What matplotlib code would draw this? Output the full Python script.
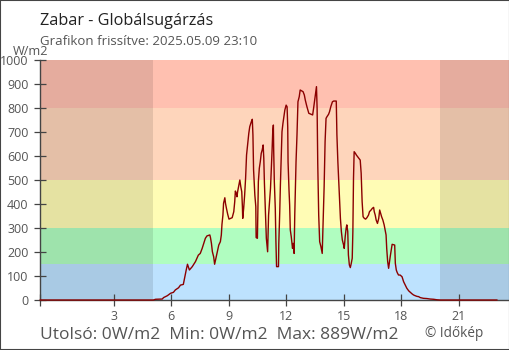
import matplotlib
matplotlib.use("Agg")
import matplotlib.pyplot as plt
from matplotlib.patches import Rectangle

plt.rcParams['font.family'] = ['Open Sans', 'DejaVu Sans']

# minutes after midnight (negative = previous evening) and W/m2
minute = [-50, 304, 311, 332, 336, 348, 358, 367, 373, 383, 389, 398, 407, 411, 417, 426,
          436, 445, 451, 457, 462, 467, 472, 481, 483, 486, 489, 493, 496, 500, 504, 509,
          514, 517, 519, 522, 524, 528, 530, 533, 537, 541, 551, 556, 559, 561, 564, 566,
          568, 571, 575, 578, 581, 583, 584, 587, 590, 593, 596, 600, 603, 606, 611, 614,
          616, 618, 622, 625, 626, 630, 633, 636, 639, 642, 645, 648, 650, 652, 655, 658,
          662, 665, 668, 671, 673, 676, 678, 680, 681, 683, 686, 688, 690, 696, 697, 700,
          702, 704, 707, 710, 713, 716, 720, 723, 725, 726, 729, 731, 733, 736, 740, 742,
          745, 747, 749, 751, 754, 757, 761, 764, 773, 777, 780, 785, 791, 803, 806, 810,
          815, 817, 819, 822, 825, 829, 833, 835, 839, 842, 845, 848, 853, 856, 860, 865,
          869, 877, 879, 882, 886, 890, 893, 896, 900, 902, 905, 908, 910, 913, 915, 918,
          921, 924, 927, 929, 931, 933, 937, 940, 944, 948, 952, 955, 958, 961, 965, 969,
          973, 978, 981, 986, 990, 994, 996, 999, 1002, 1006, 1010, 1013, 1016, 1019, 1023, 1027,
          1029, 1033, 1035, 1038, 1041, 1043, 1046, 1049, 1052, 1060, 1062, 1065, 1068, 1072, 1077, 1083,
          1088, 1093, 1098, 1104, 1109, 1114, 1119, 1124, 1130, 1135, 1140, 1150, 1161, 1171, 1182, 1192,
          1202, 1380]
radiation = [0, 0, 3, 4, 10, 18, 28, 32, 42, 51, 62, 65, 125, 149, 125, 139,
             160, 187, 194, 215, 236, 257, 267, 271, 260, 236, 201, 180, 149, 174, 201, 229,
             243, 271, 315, 354, 403, 426, 403, 382, 357, 337, 343, 368, 410, 454, 444, 430,
             451, 472, 500, 472, 451, 389, 340, 382, 437, 507, 604, 653, 694, 722, 743, 753,
             688, 542, 437, 389, 260, 257, 493, 549, 576, 611, 625, 646, 590, 486, 368, 257,
             201, 354, 410, 465, 528, 625, 701, 729, 625, 493, 382, 243, 139, 139, 236, 368,
             479, 569, 701, 736, 764, 792, 812, 805, 720, 576, 458, 396, 292, 264, 215, 236,
             194, 354, 472, 576, 688, 826, 847, 875, 868, 854, 833, 806, 778, 771, 799, 840,
             889, 799, 569, 354, 243, 222, 194, 292, 472, 660, 757, 764, 774, 785, 806, 826,
             829, 829, 688, 576, 458, 340, 285, 250, 229, 215, 264, 299, 313, 285, 188, 146,
             135, 153, 174, 285, 507, 618, 611, 604, 597, 590, 583, 528, 410, 347, 340, 337,
             343, 354, 368, 375, 382, 386, 368, 354, 333, 319, 340, 375, 361, 347, 333, 313,
             299, 271, 215, 160, 132, 153, 181, 208, 232, 229, 153, 125, 114, 104, 104, 97,
             76, 62, 49, 38, 32, 26, 21, 18, 15, 14, 10, 7, 6, 4, 3, 1,
             0, 0]

# colour bands (W/m2)
band_edges = [0, 150, 300, 500, 800, 1000]
band_colors = ["#bde2fe", "#b0fdc0", "#fffcb5", "#fed5bb", "#ffc0b0"]

sunrise = 5.07
sunset = 20.04
x_start = -50 / 60
x_end = 23.66
x_ticks = [3, 6, 9, 12, 15, 18, 21]
y_ticks = [0, 100, 200, 300, 400, 500, 600, 700, 800, 900, 1000]

hours = [m / 60 for m in minute]
last = radiation[-1]
low = min(radiation)
high = max(radiation)

fig = plt.figure(figsize=(5.1, 3.5), dpi=100)
ax = fig.add_axes([40.3 / 510, 50 / 350, (509.5 - 40.3) / 510, 240 / 350])

for lo, hi, c in zip(band_edges[:-1], band_edges[1:], band_colors):
    ax.axhspan(lo, hi, color=c, lw=0, zorder=0)
ax.axvspan(x_start, sunrise, color="black", alpha=0.1, lw=0, zorder=1)
ax.axvspan(sunset, x_end, color="black", alpha=0.1, lw=0, zorder=1)

ax.plot(hours, radiation, color="#8b0000", lw=1.0, zorder=3, clip_on=False)

ax.set_xlim(x_start, x_end)
ax.set_ylim(0, 1000)
ax.set_xticks([x_start] + x_ticks)
ax.set_xticklabels([""] + [str(t) for t in x_ticks])
ax.set_yticks(y_ticks)
for s in ["top", "right"]:
    ax.spines[s].set_visible(False)
for s in ["left", "bottom"]:
    ax.spines[s].set_color("#444444")
    ax.spines[s].set_linewidth(1.0)
    ax.spines[s].set_zorder(2)
ax.tick_params(axis="both", direction="inout", length=9, width=0.9, color="#444444",
               labelcolor="#555555", labelsize=9)
ax.tick_params(axis="y", pad=4)
ax.tick_params(axis="x", pad=2.5)

fig.text(40 / 510, 1 - 25 / 350, "Zabar - Globálsugárzás", fontsize=11.7,
         color="#222222", va="baseline")
fig.text(40 / 510, 1 - 45 / 350, "Grafikon frissítve: 2025.05.09 23:10", fontsize=9.5,
         color="#555555", va="baseline")
fig.text(12.7 / 510, 1 - 55 / 350, "W/m2", fontsize=9.2, color="#555555", va="baseline")
fig.text(40 / 510, 1 - 339.3 / 350,
         f"Utolsó: {last}W/m2  Min: {low}W/m2  Max: {high}W/m2",
         fontsize=12.5, color="#555555", va="baseline")
fig.text(425 / 510, 1 - 336.7 / 350, "© Időkép", fontsize=9.8, color="#555555", va="baseline")

fig.patches.append(Rectangle((0, 0), 1, 1, transform=fig.transFigure, fill=False,
                             edgecolor="#444444", lw=1.5))

fig.savefig("out.png", dpi=100)
